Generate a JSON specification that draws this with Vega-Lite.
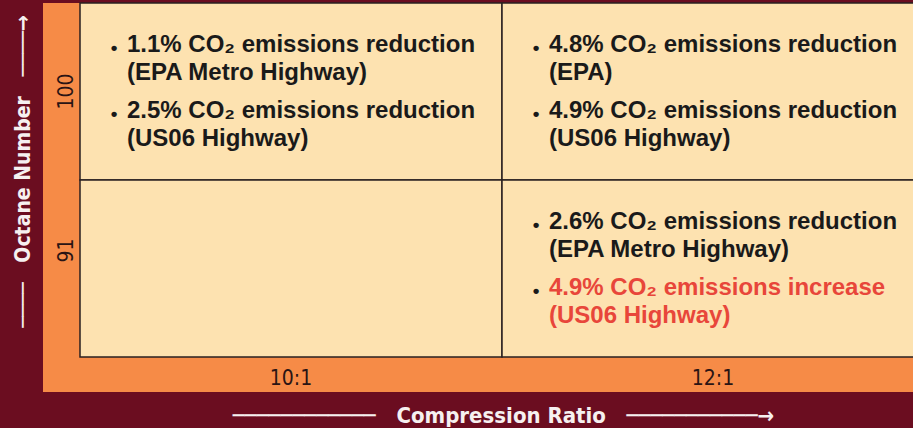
{
  "$schema": "https://vega.github.io/schema/vega-lite/v6.json",
  "width": 870,
  "height": 389,
  "autosize": "none",
  "padding": {"left": 43, "top": 3, "right": 0, "bottom": 36},
  "background": "#6b0d20",
  "config": {"view": {"fill": "#f68b47", "stroke": null}},
  "datasets": {
    "cells": [
      {"ratio": "10:1", "octane": "100"},
      {"ratio": "12:1", "octane": "100"},
      {"ratio": "10:1", "octane": "91"},
      {"ratio": "12:1", "octane": "91"}
    ],
    "notes": [
      {"ratio": "10:1", "octane": "100", "item": 1, "effect": "reduction", "text": "1.1% CO₂ emissions reduction\n(EPA Metro Highway)"},
      {"ratio": "10:1", "octane": "100", "item": 2, "effect": "reduction", "text": "2.5% CO₂ emissions reduction\n(US06 Highway)"},
      {"ratio": "12:1", "octane": "100", "item": 1, "effect": "reduction", "text": "4.8% CO₂ emissions reduction\n(EPA)"},
      {"ratio": "12:1", "octane": "100", "item": 2, "effect": "reduction", "text": "4.9% CO₂ emissions reduction\n(US06 Highway)"},
      {"ratio": "12:1", "octane": "91", "item": 1, "effect": "reduction", "text": "2.6% CO₂ emissions reduction\n(EPA Metro Highway)"},
      {"ratio": "12:1", "octane": "91", "item": 2, "effect": "increase", "text": "4.9% CO₂ emissions increase\n(US06 Highway)"}
    ]
  },
  "encoding": {
    "x": {
      "field": "ratio", "type": "nominal",
      "scale": {"domain": ["10:1", "12:1"], "range": [37, 881], "paddingInner": 0, "paddingOuter": 0},
      "axis": {
        "orient": "bottom", "offset": -35, "domain": false, "ticks": false, "grid": false,
        "labelAngle": 0, "labelPadding": 27, "labelBaseline": "alphabetic",
        "labelFont": "DejaVu Sans Condensed", "labelFontSize": 21, "labelColor": "#2a1414",
        "title": "────────────\u00a0\u00a0\u00a0Compression Ratio\u00a0\u00a0\u00a0───────────→",
        "titleFont": "DejaVu Sans Condensed", "titleFontWeight": "bold", "titleFontSize": 22,
        "titleColor": "#f6f0f0", "titleX": 460, "titleY": 65, "titleBaseline": "alphabetic", "titleAlign": "center"
      }
    },
    "y": {
      "field": "octane", "type": "nominal",
      "scale": {"domain": ["100", "91"], "range": [0, 354], "paddingInner": 0, "paddingOuter": 0},
      "axis": {
        "orient": "left", "offset": -37, "domain": false, "ticks": false, "grid": false,
        "labelAngle": 270, "labelAlign": "center", "labelBaseline": "alphabetic", "labelPadding": 8,
        "labelFont": "DejaVu Sans Condensed", "labelFontSize": 21, "labelColor": "#2a1414",
        "labelOffset": {"condition": {"test": "datum.value == '91'", "value": -18}, "value": 0},
        "title": "────\u00a0\u00a0\u00a0Octane Number\u00a0\u00a0\u00a0────→",
        "titleFont": "DejaVu Sans Condensed", "titleFontWeight": "bold", "titleFontSize": 21,
        "titleColor": "#f6f0f0", "titleAngle": 270, "titleX": -51, "titleY": 168,
        "titleBaseline": "alphabetic", "titleAlign": "center"
      }
    }
  },
  "layer": [
    {
      "data": {"name": "cells"},
      "mark": {"type": "rect", "fill": "#fde2b0", "stroke": "#2a2020", "strokeWidth": 1.5}
    },
    {
      "data": {"name": "notes"},
      "transform": [{"filter": "datum.item == 1"}],
      "mark": {"type": "text", "align": "center", "baseline": "alphabetic", "font": "Liberation Sans", "fontWeight": "bold", "fontSize": 19, "dx": 34, "dy": 51, "color": "#1a1a1a"},
      "encoding": {
        "x": {"field": "ratio", "type": "nominal", "bandPosition": 0},
        "y": {"field": "octane", "type": "nominal", "bandPosition": 0},
        "text": {"value": "•"}
      }
    },
    {
      "data": {"name": "notes"},
      "transform": [{"filter": "datum.item == 2"}],
      "mark": {"type": "text", "align": "center", "baseline": "alphabetic", "font": "Liberation Sans", "fontWeight": "bold", "fontSize": 19, "dx": 34, "dy": 117, "color": "#1a1a1a"},
      "encoding": {
        "x": {"field": "ratio", "type": "nominal", "bandPosition": 0},
        "y": {"field": "octane", "type": "nominal", "bandPosition": 0},
        "text": {"value": "•"}
      }
    },
    {
      "data": {"name": "notes"},
      "transform": [{"filter": "datum.item == 1"}],
      "mark": {"type": "text", "align": "left", "baseline": "alphabetic", "font": "Liberation Sans", "fontWeight": "bold", "fontSize": 24, "lineBreak": "\n", "lineHeight": 28, "dx": 47, "dy": 49},
      "encoding": {
        "x": {"field": "ratio", "type": "nominal", "bandPosition": 0},
        "y": {"field": "octane", "type": "nominal", "bandPosition": 0},
        "text": {"field": "text"},
        "color": {"field": "effect", "type": "nominal", "scale": {"domain": ["reduction", "increase"], "range": ["#1a1a1a", "#e8463a"]}, "legend": null}
      }
    },
    {
      "data": {"name": "notes"},
      "transform": [{"filter": "datum.item == 2"}],
      "mark": {"type": "text", "align": "left", "baseline": "alphabetic", "font": "Liberation Sans", "fontWeight": "bold", "fontSize": 24, "lineBreak": "\n", "lineHeight": 28, "dx": 47, "dy": 115},
      "encoding": {
        "x": {"field": "ratio", "type": "nominal", "bandPosition": 0},
        "y": {"field": "octane", "type": "nominal", "bandPosition": 0},
        "text": {"field": "text"},
        "color": {"field": "effect", "type": "nominal", "scale": {"domain": ["reduction", "increase"], "range": ["#1a1a1a", "#e8463a"]}, "legend": null}
      }
    }
  ]
}
